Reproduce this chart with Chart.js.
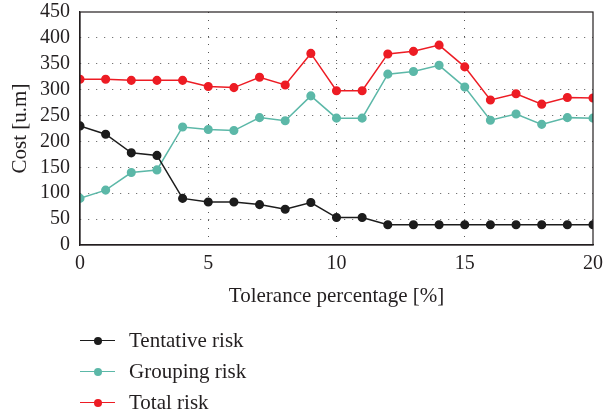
<!DOCTYPE html>
<html>
<head>
<meta charset="utf-8">
<script src="https://cdn.jsdelivr.net/npm/chart.js@4.4.1/dist/chart.umd.min.js"></script>
<style>
    html, body { margin: 0; padding: 0; background: #fff; }
    #wrap { position: relative; width: 603px; height: 417px; }
    #legend { position: absolute; left: 80px; top: 325px; font-family: "Liberation Serif", serif; font-size: 21px; color: #231f20; }
    .item { display: flex; align-items: center; height: 31px; }
    .swatch { position: relative; width: 35px; height: 10px; margin-right: 14px; }
    .swatch .ln { position: absolute; left: 0; right: 0; top: 4px; height: 1.6px; }
    .swatch .dot { position: absolute; left: 14px; top: 1px; width: 8px; height: 8px; border-radius: 50%; }
</style>
</head>
<body>
<div id="wrap">
    <canvas id="costChart" width="603" height="417"></canvas>
    <div id="legend"></div>
</div>
<script>
    // Tolerance steps (%)
    const tolerance = [0, 1, 2, 3, 4, 5, 6, 7, 8, 9, 10, 11, 12, 13, 14, 15, 16, 17, 18, 19, 20];
    // Cost per series [u.m]
    const tentativeRisk = [230, 214, 178, 173, 90, 83, 83, 78, 69, 82, 53, 53, 39, 39, 39, 39, 39, 39, 39, 39, 39];
    const groupingRisk = [90, 106, 140, 145, 228, 223, 221, 246, 240, 288, 245, 245, 330, 335, 347, 305, 241, 253, 233, 246, 245];
    const totalRisk = [320, 320, 318, 318, 318, 306, 304, 324, 309, 370, 298, 298, 369, 374, 386, 344, 280, 292, 272, 285, 284];
    const yTicks = [0, 50, 100, 150, 200, 250, 300, 350, 400, 450];
    const xTicks = [0, 5, 10, 15, 20];

    const serif = '"Liberation Serif", "DejaVu Serif", serif';
    const ink = '#231f20';

    function points(values) {
        return tolerance.map((t, i) => ({ x: t, y: values[i] }));
    }

    function series(label, values, color) {
        return {
            label: label,
            data: points(values),
            borderColor: color,
            backgroundColor: color,
            pointBackgroundColor: color,
            pointBorderColor: color,
            pointRadius: 3.8,
            borderWidth: 1.5,
            tension: 0
        };
    }

    // closed frame around the plot
    const frame = {
        id: 'frame',
        afterDraw(chart) {
            const a = chart.chartArea;
            const c = chart.ctx;
            c.save();
            c.strokeStyle = ink;
            c.lineWidth = 1.2;
            c.strokeRect(a.left, a.top, a.right - a.left, a.bottom - a.top);
            c.restore();
        }
    };

    // dotted lines only between the frame edges
    const dotted = (edges) => (ctx) => edges.includes(ctx.tick.value) ? 'rgba(0,0,0,0)' : '#555';

    const ctx = document.getElementById('costChart').getContext('2d');
    const chart = new Chart(ctx, {
        type: 'line',
        data: {
            datasets: [
                series('Tentative risk', tentativeRisk, '#1c1c1c'),
                series('Grouping risk', groupingRisk, '#5cb8a8'),
                series('Total risk', totalRisk, '#ed1c24')
            ]
        },
        options: {
            responsive: false,
            animation: false,
            layout: { padding: { top: 12, right: 10, bottom: 102, left: 0 } },
            plugins: {
                legend: { display: false },
                tooltip: { enabled: false }
            },
            scales: {
                x: {
                    type: 'linear',
                    min: 0,
                    max: 20,
                    afterFit: (s) => { s.height = 70; s.paddingLeft = 0; s.paddingRight = 0; },
                    afterBuildTicks: (s) => { s.ticks = xTicks.map(v => ({ value: v })); },
                    ticks: { color: ink, font: { family: serif, size: 20 }, padding: 7, maxRotation: 0, autoSkip: false },
                    grid: { color: dotted([0, 20]), lineWidth: 1, drawTicks: false },
                    border: { display: true, color: ink, width: 1.2, dash: [1, 7] },
                    title: {
                        display: true,
                        text: 'Tolerance percentage [%]',
                        color: ink,
                        font: { family: serif, size: 21 },
                        padding: { top: 0, bottom: 6 }
                    }
                },
                y: {
                    min: 0,
                    max: 450,
                    afterFit: (s) => { s.width = 80; s.paddingTop = 0; s.paddingBottom = 0; },
                    afterBuildTicks: (s) => { s.ticks = yTicks.map(v => ({ value: v })); },
                    ticks: { color: ink, font: { family: serif, size: 20 }, padding: 10, autoSkip: false },
                    grid: { color: dotted([0, 450]), lineWidth: 1, drawTicks: false },
                    border: { display: true, color: ink, width: 1.2, dash: [1, 7] },
                    title: {
                        display: true,
                        text: 'Cost [u.m]',
                        color: ink,
                        font: { family: serif, size: 21 },
                        padding: { top: 8, bottom: 0 }
                    }
                }
            }
        },
        plugins: [frame]
    });

    // legend stacked under the plot
    const legend = document.getElementById('legend');
    chart.data.datasets.forEach(ds => {
        const item = document.createElement('div');
        item.className = 'item';
        item.innerHTML = '<span class="swatch"><span class="ln" style="background:' + ds.borderColor +
            '"></span><span class="dot" style="background:' + ds.borderColor + '"></span></span>' +
            '<span>' + ds.label + '</span>';
        legend.appendChild(item);
    });
</script>
</body>
</html>
